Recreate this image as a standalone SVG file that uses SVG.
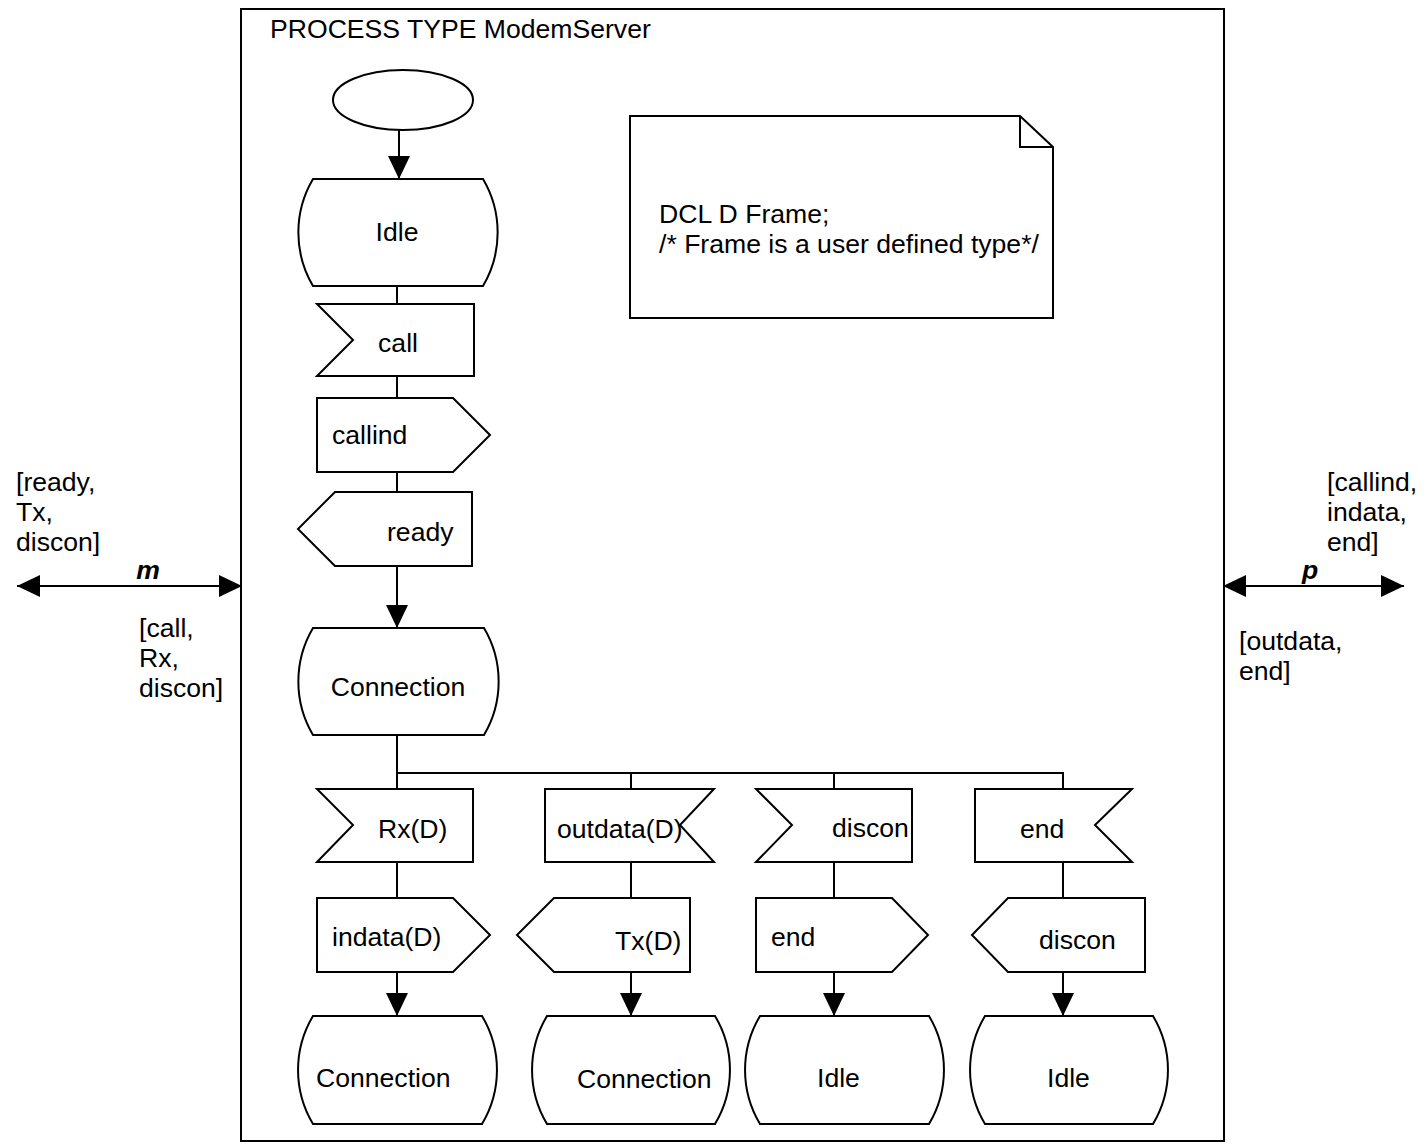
<svg xmlns="http://www.w3.org/2000/svg" width="1427" height="1144" viewBox="0 0 1427 1144">
<style>
.s{fill:#fff;stroke:#000;stroke-width:2;stroke-linejoin:miter}
.l{fill:none;stroke:#000;stroke-width:2}
text{font-family:"Liberation Sans",Arial,sans-serif;font-size:26.6px;fill:#000}
.c{text-anchor:middle}
.ch{font-weight:bold;font-style:italic}
</style>
<defs>
<marker id="ah" markerUnits="userSpaceOnUse" markerWidth="24" markerHeight="24" viewBox="0 0 24 24" refX="23" refY="12" orient="auto-start-reverse">
<path d="M0,1 L23,12 L0,23 Z" fill="#000"/>
</marker>
</defs>
<rect x="241" y="9" width="983" height="1132" fill="#fff" stroke="#000" stroke-width="2"/>
<text x="270" y="38">PROCESS TYPE ModemServer</text>

<g id="connectors">
<line class="l" x1="399" y1="130" x2="399" y2="179" marker-end="url(#ah)"/>
<line class="l" x1="397" y1="286" x2="397" y2="304"/>
<line class="l" x1="397" y1="376" x2="397" y2="398"/>
<line class="l" x1="397" y1="472" x2="397" y2="492"/>
<line class="l" x1="397" y1="566" x2="397" y2="628" marker-end="url(#ah)"/>
<line class="l" x1="397" y1="735" x2="397" y2="789"/>
<polyline class="l" points="397,773 1063,773 1063,789"/>
<line class="l" x1="631" y1="773" x2="631" y2="789"/>
<line class="l" x1="834" y1="773" x2="834" y2="789"/>
<line class="l" x1="397" y1="862" x2="397" y2="898"/>
<line class="l" x1="631" y1="862" x2="631" y2="898"/>
<line class="l" x1="834" y1="862" x2="834" y2="898"/>
<line class="l" x1="1063" y1="862" x2="1063" y2="898"/>
<line class="l" x1="397" y1="972" x2="397" y2="1016" marker-end="url(#ah)"/>
<line class="l" x1="631" y1="972" x2="631" y2="1016" marker-end="url(#ah)"/>
<line class="l" x1="834" y1="972" x2="834" y2="1016" marker-end="url(#ah)"/>
<line class="l" x1="1063" y1="972" x2="1063" y2="1016" marker-end="url(#ah)"/>
<line class="l" x1="17" y1="586" x2="242" y2="586" marker-start="url(#ah)" marker-end="url(#ah)"/>
<line class="l" x1="1223" y1="586" x2="1404" y2="586" marker-start="url(#ah)" marker-end="url(#ah)"/>
</g>

<g id="channel-m">
<text x="148" y="579" class="c ch">m</text>
<text x="16" y="491">[ready,</text>
<text x="16" y="521">Tx,</text>
<text x="16" y="551">discon]</text>
<text x="139" y="637">[call,</text>
<text x="139" y="667">Rx,</text>
<text x="139" y="697">discon]</text>
</g>
<g id="channel-p">
<text x="1310" y="579" class="c ch">p</text>
<text x="1327" y="491">[callind,</text>
<text x="1327" y="521">indata,</text>
<text x="1327" y="551">end]</text>
<text x="1239" y="650">[outdata,</text>
<text x="1239" y="680">end]</text>
</g>

<g id="note">
<path class="s" d="M630,116 L1020,116 L1053,147 L1053,318 L630,318 Z"/>
<path class="l" d="M1020,116 L1020,147 L1053,147"/>
<text x="659" y="223">DCL D Frame;</text>
<text x="659" y="253">/* Frame is a user defined type*/</text>
</g>

<g id="start"><ellipse class="s" cx="403" cy="100" rx="70" ry="30"/></g>

<g id="state-idle"><path class="s" d="M313,179 L483,179 A105,105 0 0 1 483,286 L313,286 A105,105 0 0 1 313,179 Z"/><text x="397" y="241" class="c">Idle</text></g>
<g id="input-call"><path class="s" d="M317,304 L474,304 L474,376 L317,376 L353,340 Z"/><text x="398" y="352" class="c">call</text></g>
<g id="output-callind"><path class="s" d="M317,398 L453,398 L490,435 L453,472 L317,472 Z"/><text x="332" y="444">callind</text></g>
<g id="output-ready"><path class="s" d="M335,492 L472,492 L472,566 L335,566 L298,529 Z"/><text x="387" y="541">ready</text></g>
<g id="state-connection"><path class="s" d="M313,628 L484,628 A105,105 0 0 1 484,735 L313,735 A105,105 0 0 1 313,628 Z"/><text x="398" y="696" class="c">Connection</text></g>

<g id="input-rx"><path class="s" d="M317,789 L473,789 L473,862 L317,862 L353,825 Z"/><text x="378" y="838">Rx(D)</text></g>
<g id="input-outdata"><path class="s" d="M545,789 L714,789 L680,825 L714,862 L545,862 Z"/><text x="557" y="838">outdata(D)</text></g>
<g id="input-discon"><path class="s" d="M756,789 L912,789 L912,862 L756,862 L792,825 Z"/><text x="832" y="837">discon</text></g>
<g id="input-end"><path class="s" d="M975,789 L1132,789 L1095,825 L1132,862 L975,862 Z"/><text x="1020" y="838">end</text></g>

<g id="output-indata"><path class="s" d="M317,898 L453,898 L490,935 L453,972 L317,972 Z"/><text x="332" y="946">indata(D)</text></g>
<g id="output-tx"><path class="s" d="M554,898 L690,898 L690,972 L554,972 L517,935 Z"/><text x="615" y="950">Tx(D)</text></g>
<g id="output-end"><path class="s" d="M756,898 L892,898 L928,935 L892,972 L756,972 Z"/><text x="771" y="946">end</text></g>
<g id="output-discon"><path class="s" d="M1008,898 L1145,898 L1145,972 L1008,972 L972,935 Z"/><text x="1039" y="949">discon</text></g>

<g id="state-connection-2"><path class="s" d="M313,1016 L482,1016 A105,105 0 0 1 482,1124 L313,1124 A105,105 0 0 1 313,1016 Z"/><text x="316" y="1087">Connection</text></g>
<g id="state-connection-3"><path class="s" d="M547,1016 L715,1016 A105,105 0 0 1 715,1124 L547,1124 A105,105 0 0 1 547,1016 Z"/><text x="577" y="1088">Connection</text></g>
<g id="state-idle-2"><path class="s" d="M760,1016 L929,1016 A105,105 0 0 1 929,1124 L760,1124 A105,105 0 0 1 760,1016 Z"/><text x="817" y="1087">Idle</text></g>
<g id="state-idle-3"><path class="s" d="M985,1016 L1153,1016 A105,105 0 0 1 1153,1124 L985,1124 A105,105 0 0 1 985,1016 Z"/><text x="1047" y="1087">Idle</text></g>
</svg>
